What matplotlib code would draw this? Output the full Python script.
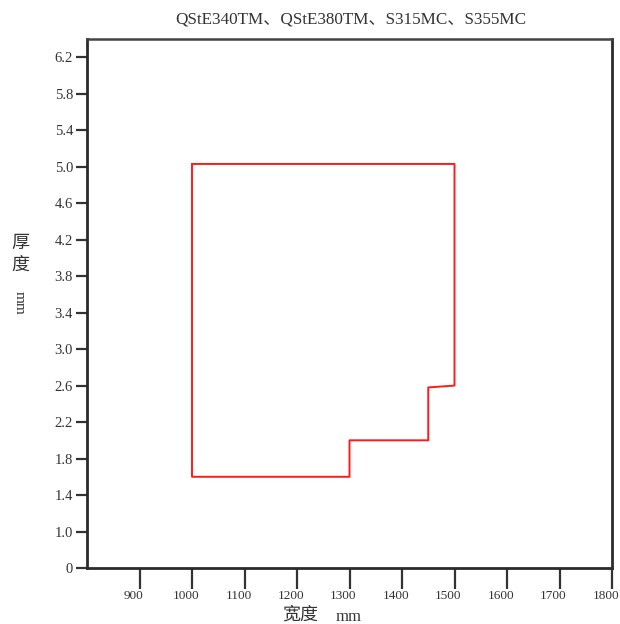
import matplotlib
matplotlib.use("Agg")
import matplotlib.pyplot as plt
import matplotlib.transforms as mtransforms
import numpy as np

# outline of the size range (width mm, thickness mm)
width_mm = [1000, 1000, 1300, 1300, 1450, 1450, 1500, 1500, 1000]
thick_mm = [5.03, 1.6, 1.6, 2.0, 2.0, 2.58, 2.6, 5.03, 5.03]

x_ticks = [900, 1000, 1100, 1200, 1300, 1400, 1500, 1600, 1700, 1800]
y_ticks = [0, 1.0, 1.4, 1.8, 2.2, 2.6, 3.0, 3.4, 3.8, 4.2, 4.6, 5.0, 5.4, 5.8, 6.2]
y_labels = ["0"] + [f"{v:.1f}" for v in y_ticks[1:]]

title = "QStE340TM、QStE380TM、S315MC、S355MC"

fam = ["Liberation Serif", "Noto Sans CJK SC", "DejaVu Sans"]
cjk = ["Noto Sans CJK SC", "DejaVu Sans"]


# y axis: 0..1 takes one step, then 0.4 per step
def fwd(v):
    v = np.asarray(v, dtype=float)
    return np.where(v <= 1, v, 1 + (v - 1) / 0.4)


def inv(p):
    p = np.asarray(p, dtype=float)
    return np.where(p <= 1, p, 1 + (p - 1) * 0.4)


fig = plt.figure(figsize=(6.2, 6.24), dpi=100)
ax = fig.add_axes([87 / 620, 1 - 568 / 624, (612 - 87) / 620, (568 - 39) / 624])

ax.plot(width_mm, thick_mm, color="#ff1a1a", lw=1.4)

ax.set_yscale("function", functions=(fwd, inv))
ax.set_xlim(800, 1800)
ax.set_ylim(0, 6.4)

ax.set_xticks(x_ticks)
ax.set_xticklabels([str(v) for v in x_ticks], family=fam, fontsize=9.5, color="#333333")
ax.set_yticks(y_ticks)
ax.set_yticklabels(y_labels, family=fam, fontsize=10.5, color="#333333")
ax.minorticks_off()

ax.tick_params(axis="x", direction="out", length=15, width=1.6, color="#333333", pad=1)
ax.tick_params(axis="y", direction="out", length=8, width=1.6, color="#333333", pad=2)

# x labels sit a little left of their ticks
offset = mtransforms.ScaledTranslation(-6 / 100, 0, fig.dpi_scale_trans)
for lab in ax.get_xticklabels():
    lab.set_transform(lab.get_transform() + offset)

for side in ["left", "bottom", "right"]:
    ax.spines[side].set_linewidth(2)
    ax.spines[side].set_color("#2b2b2b")
ax.spines["top"].set_linewidth(1.8)
ax.spines["top"].set_color("#444444")

fig.text(351 / 620, 1 - 19 / 624, title, family=fam, fontsize=12.3, color="#333333",
         ha="center", va="center")

# axis titles
fig.text(318 / 620, 1 - 615 / 624, "宽度", family=cjk, fontsize=13, color="#333333",
         ha="right", va="center")
fig.text(336 / 620, 1 - 617 / 624, "mm", family=fam, fontsize=12, color="#333333",
         ha="left", va="center")
fig.text(20 / 620, 1 - 243 / 624, "厚", family=cjk, fontsize=13, color="#333333",
         ha="center", va="center")
fig.text(20 / 620, 1 - 265 / 624, "度", family=cjk, fontsize=13, color="#333333",
         ha="center", va="center")
fig.text(19 / 620, 1 - 303 / 624, "mm", family=fam, fontsize=11, color="#333333",
         ha="center", va="center", rotation=-90)

fig.savefig("out.png", dpi=100)
